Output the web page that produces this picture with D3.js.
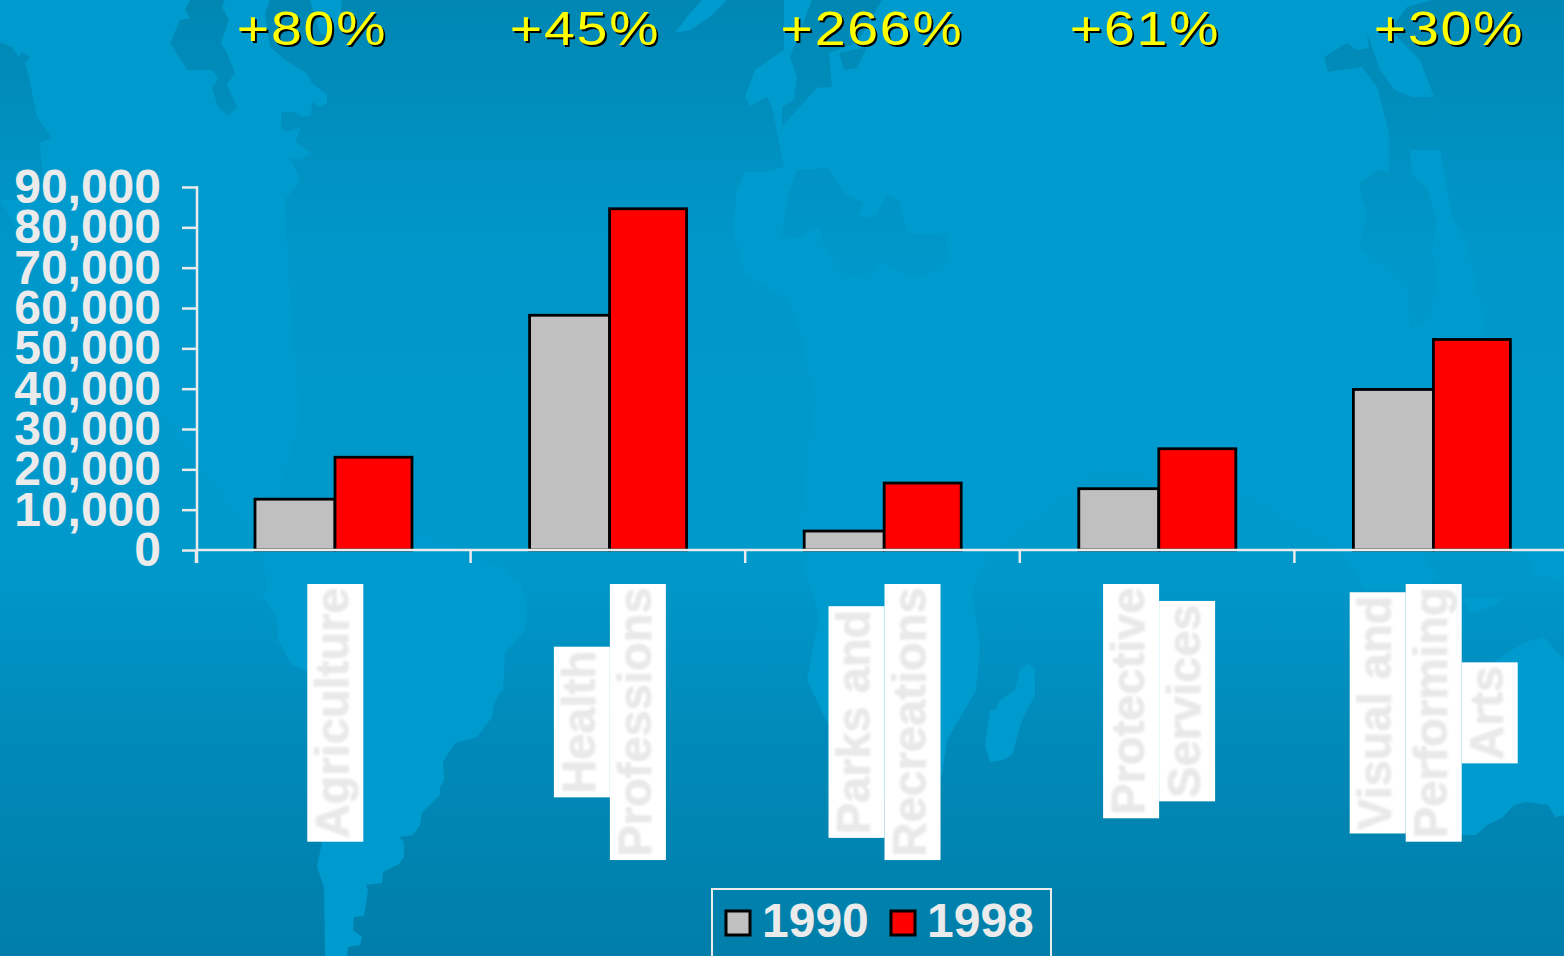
<!DOCTYPE html>
<html lang="en">
    <head>
        <meta charset="utf-8">
        <title>Degrees by field, 1990 and 1998</title>
        <script type="text/javascript" src="https://d3js.org/d3.v7.min.js"></script>
        <style type="text/css">
          html, body { margin: 0; padding: 0; overflow: hidden; }
          svg { display: block; }
          text { font-family: "Liberation Sans", Arial, sans-serif; }
        </style>
    </head>
    <body>
        <svg width="1564" height="956"></svg>
        <script type="text/javascript">

            //Our data
            const categories = ["Agriculture", "Health Professions", "Parks and Recreations", "Protective Services", "Visual and Performing Arts"];
            const categoryLines = [["Agriculture"], ["Health", "Professions"], ["Parks and", "Recreations"], ["Protective", "Services"], ["Visual and", "Performing", "Arts"]];
            const years = ["1990", "1998"];
            const values1990 = [12600, 58200, 4700, 15200, 39800];
            const values1998 = [23000, 84600, 16600, 25100, 52200];
            const growthLabels = ["+80%", "+45%", "+266%", "+61%", "+30%"];
            const yTicks = [0, 10000, 20000, 30000, 40000, 50000, 60000, 70000, 80000, 90000];

            //Everything we are familiar with:
            const svg = d3.select("svg");
            const w = 1564;
            const h = 956;
            const textColor = "#ebebeb";
            const yearColor = d3.scaleOrdinal().domain(years).range(["#c0c0c0", "#ff0000"]);

            const x = d3.scaleBand().domain(categories).range([196, 1569]);
            //grey bars come out a little wider than red ones in the original
            const barEdge = d3.scaleOrdinal().domain(["1990", "1998", "end"]).range([59, 139, 216]);
            const nextEdge = {"1990": "1998", "1998": "end"};
            const y = d3.scaleLinear().domain([0, 90000]).range([550, 187]);

            const defs = svg.append("defs");

            //sea gets darker towards top and bottom of the slide
            const ocean = defs.append("linearGradient")
                              .attr("id", "ocean")
                              .attr("gradientUnits", "userSpaceOnUse")
                              .attr("x1", 0).attr("y1", 0).attr("x2", 0).attr("y2", h);
            [[0, "#0087b4"], [0.1, "#008dbb"], [0.2, "#0094c5"], [0.3, "#0098cb"], [0.58, "#0099cc"], [0.74, "#008cbc"], [0.88, "#0084b1"], [1, "#007ea9"]]
                .forEach(s => ocean.append("stop").attr("offset", s[0]).attr("stop-color", s[1]));

            const soft = defs.append("filter").attr("id", "soft");
            soft.append("feGaussianBlur").attr("stdDeviation", 0.8);

            //background map, traced roughly by hand
            const land = [
              // north america
              [[0,0],[270,0],[265,13],[270,47],[285,60],[305,72],[312,83],[327,95],[327,103],[320,107],[312,102],[311,115],[302,117],[295,112],[281,112],[281,128],[286,132],[300,128],[295,142],[311,153],[300,160],[290,158],[300,180],[285,200],[290,300],[300,420],[262,550],[150,400],[60,300],[0,200]],
              // greenland
              [[310,0],[342,0],[340,20],[330,37],[320,33]],
              // south america
              [[262,550],[267,587],[262,595],[277,617],[278,640],[292,665],[308,672],[322,842],[317,867],[324,887],[325,956],[347,956],[348,947],[360,945],[362,937],[353,930],[354,917],[364,916],[368,890],[366,885],[382,883],[383,872],[399,864],[404,857],[404,842],[399,837],[413,835],[420,825],[422,813],[440,795],[440,787],[444,780],[443,762],[455,743],[477,737],[492,717],[493,707],[498,695],[503,690],[505,653],[525,630],[528,607],[520,583],[500,567],[470,557],[460,550],[430,535],[300,530]],
              // scandinavia sliver
              [[675,33],[687,17],[702,0],[727,0],[710,17],[690,30]],
              // europe, africa and asia
              [[784,0],[1432,0],[1407,7],[1390,30],[1420,60],[1434,97],[1440,150],[1452,217],[1467,243],[1480,300],[1500,420],[1480,520],[1430,548],[1341,550],[1250,500],[1100,470],[1010,540],[989,554],[972,592],[980,647],[976,690],[964,711],[947,740],[940,787],[900,800],[860,790],[827,722],[807,680],[819,615],[806,575],[800,530],[808,450],[815,400],[800,330],[790,300],[745,275],[733,230],[737,190],[745,172],[765,172],[784,167],[772,107],[767,97],[750,106],[745,97],[755,70],[765,63],[784,50]],
              // madagascar
              [[1028,663],[1035,670],[1035,695],[1022,720],[1012,755],[1003,760],[990,762],[985,745],[990,710],[995,710],[1000,700],[1015,690],[1020,670]],
              // indonesia
              [[1341,550],[1350,565],[1365,590],[1406,590],[1440,580],[1420,550]],
              [[1463,598],[1504,597],[1495,605],[1470,613]],
              [[1525,550],[1535,575],[1564,580],[1564,550]],
              // australia
              [[1440,700],[1463,663],[1493,663],[1504,655],[1525,642],[1544,637],[1564,660],[1564,815],[1555,817],[1548,805],[1525,802],[1514,805],[1502,818],[1487,825],[1476,835],[1440,835]]
            ];
            const seas = [
              // hudson bay
              [[190,0],[185,10],[190,18],[180,20],[170,43],[187,70],[212,70],[218,78],[212,88],[218,107],[228,116],[237,107],[227,85],[235,73],[227,53],[221,43],[229,20],[222,7],[225,0]],
              // pacific edge on the left
              [[0,42],[12,47],[19,57],[22,52],[30,57],[25,63],[30,80],[32,93],[37,117],[52,138],[40,143],[45,200],[0,200]],
              // north europe
              [[812,0],[790,57],[797,77],[794,100],[782,107],[782,127],[797,110],[817,88],[832,87],[829,53],[857,43],[882,0]],
              [[844,70],[857,68],[867,47],[839,53]],
              // middle east
              [[797,170],[829,168],[844,193],[864,203],[857,217],[875,217],[887,195],[899,200],[907,233],[947,235],[947,260],[932,273],[914,278],[882,263],[867,280],[842,273],[824,247],[819,227],[799,238],[782,237],[787,197]],
              // east asia
              [[1324,57],[1347,43],[1357,50],[1369,48],[1367,33],[1380,70],[1395,90],[1412,97],[1434,97],[1440,150],[1410,150],[1400,130],[1389,133],[1377,87],[1362,67],[1328,72]],
              [[1389,133],[1389,173],[1377,170],[1359,183],[1362,200],[1367,213],[1359,247],[1384,267],[1407,290],[1410,330],[1430,320],[1437,277],[1432,250],[1437,220],[1427,187],[1412,175],[1410,150],[1400,130]]
            ];

            svg.append("rect").attr("width", w).attr("height", h).style("fill", "url(#ocean)");

            const outline = d3.line().curve(d3.curveLinear);
            svg.append("g").selectAll("path")
               .data(land)
               .enter()
               .append("path")
               .attr("d", d => outline(d) + "Z")
               .style("fill", "#009bce");
            svg.append("g").selectAll("path")
               .data(seas)
               .enter()
               .append("path")
               .attr("d", d => outline(d) + "Z")
               .style("fill", "url(#ocean)");

            //growth labels on top, stretched like the original
            const growthCenters = [312, 585, 872, 1145, 1449];
            const growth = svg.append("g").selectAll("g")
                              .data(growthLabels)
                              .enter()
                              .append("g")
                              .attr("transform", (d,i) => `translate(${growthCenters[i]},45) scale(1.18,1.03)`);
            growth.append("text")
                  .attr("x", 1.6).attr("y", 2)
                  .attr("text-anchor", "middle")
                  .style("font-size", "47px")
                  .style("letter-spacing", "1.5px")
                  .style("fill", "#000")
                  .text(d => d);
            growth.append("text")
                  .attr("text-anchor", "middle")
                  .style("font-size", "47px")
                  .style("letter-spacing", "1.5px")
                  .style("fill", "#ffff00")
                  .text(d => d);

            //bars
            const groups = svg.append("g").selectAll("g")
                              .data(categories)
                              .enter()
                              .append("g")
                              .attr("transform", d => `translate(${x(d)},0)`);
            groups.selectAll("rect")
                  .data((d,i) => [{year: "1990", v: values1990[i]}, {year: "1998", v: values1998[i]}])
                  .enter()
                  .append("rect")
                  .attr("x", d => barEdge(d.year))
                  .attr("y", d => y(d.v))
                  .attr("width", d => barEdge(nextEdge[d.year]) - barEdge(d.year))
                  .attr("height", d => y(0) - y(d.v))
                  .style("fill", d => yearColor(d.year))
                  .style("stroke", "black")
                  .style("stroke-width", 2.8);

            //y axis
            const yAxis = svg.append("g")
                             .attr("transform", "translate(197,0)")
                             .call(d3.axisLeft(y).tickValues(yTicks).tickFormat(d3.format(",")).tickSize(15).tickSizeOuter(0).tickPadding(21));
            yAxis.selectAll("line").style("stroke", textColor).style("stroke-width", 2.5);
            yAxis.select(".domain").remove();
            yAxis.append("line")
                 .attr("x1", 0).attr("x2", 0)
                 .attr("y1", y(90000) - 1).attr("y2", 563)
                 .style("stroke", textColor).style("stroke-width", 2.5);
            yAxis.selectAll("text")
                 .attr("dy", "0.32em")
                 .style("font-family", '"Liberation Sans", Arial, sans-serif')
                 .style("font-size", "48px")
                 .style("font-weight", "bold")
                 .style("fill", textColor);

            //x axis, ticks sit between the groups
            svg.append("line")
               .attr("x1", 196).attr("x2", w)
               .attr("y1", y(0)).attr("y2", y(0))
               .style("stroke", textColor).style("stroke-width", 2.5);
            svg.append("g").selectAll("line")
               .data(categories)
               .enter()
               .append("line")
               .attr("x1", d => x(d)).attr("x2", d => x(d))
               .attr("y1", y(0)).attr("y2", 563)
               .style("stroke", textColor).style("stroke-width", 2.5);

            //category labels: vertical text on white boxes
            const lineStep = 56;
            categories.forEach((c, i) => {
              const lines = categoryLines[i];
              const center = x(c) + x.bandwidth() / 2 + 2;
              const left = center - lines.length * lineStep / 2;
              const g = svg.append("g");
              const boxes = g.append("g");
              const labels = g.selectAll("text")
                              .data(lines)
                              .enter()
                              .append("text")
                              .style("font-size", "47px")
                              .style("font-weight", "bold")
                              .style("fill", "#e9e9e9")
                              .style("stroke", "#e9e9e9")
                              .style("stroke-width", 0.8)
                              .style("filter", "url(#soft)")
                              .attr("text-anchor", "middle")
                              .text(d => d);
              const sizes = [];
              labels.each(function() { sizes.push(this.getComputedTextLength()); });
              const mid = 584 + (d3.max(sizes) + 7) / 2;
              labels.attr("transform", (d,j) => `translate(${left + j * lineStep + 41},${mid}) rotate(-90)`);
              boxes.selectAll("rect")
                   .data(lines)
                   .enter()
                   .append("rect")
                   .attr("x", (d,j) => left + j * lineStep)
                   .attr("y", (d,j) => mid - (sizes[j] + 7) / 2)
                   .attr("width", lineStep)
                   .attr("height", (d,j) => sizes[j] + 7)
                   .style("fill", "white");
            });

            //legend
            const legend = svg.append("g");
            legend.append("rect")
                  .attr("x", 712).attr("y", 889)
                  .attr("width", 339).attr("height", 80)
                  .style("fill", "none")
                  .style("stroke", textColor)
                  .style("stroke-width", 2);
            const legendX = d3.scalePoint().domain(years).range([726, 891]);
            legend.selectAll("rect.key")
                  .data(years)
                  .enter()
                  .append("rect")
                  .attr("class", "key")
                  .attr("x", d => legendX(d))
                  .attr("y", 911)
                  .attr("width", 24).attr("height", 24)
                  .style("fill", d => yearColor(d))
                  .style("stroke", "black")
                  .style("stroke-width", 3);
            legend.selectAll("text")
                  .data(years)
                  .enter()
                  .append("text")
                  .attr("x", d => legendX(d) + 36)
                  .attr("y", 937)
                  .style("font-size", "48px")
                  .style("font-weight", "bold")
                  .style("fill", textColor)
                  .text(d => d);

        </script>
    </body>
</html>
